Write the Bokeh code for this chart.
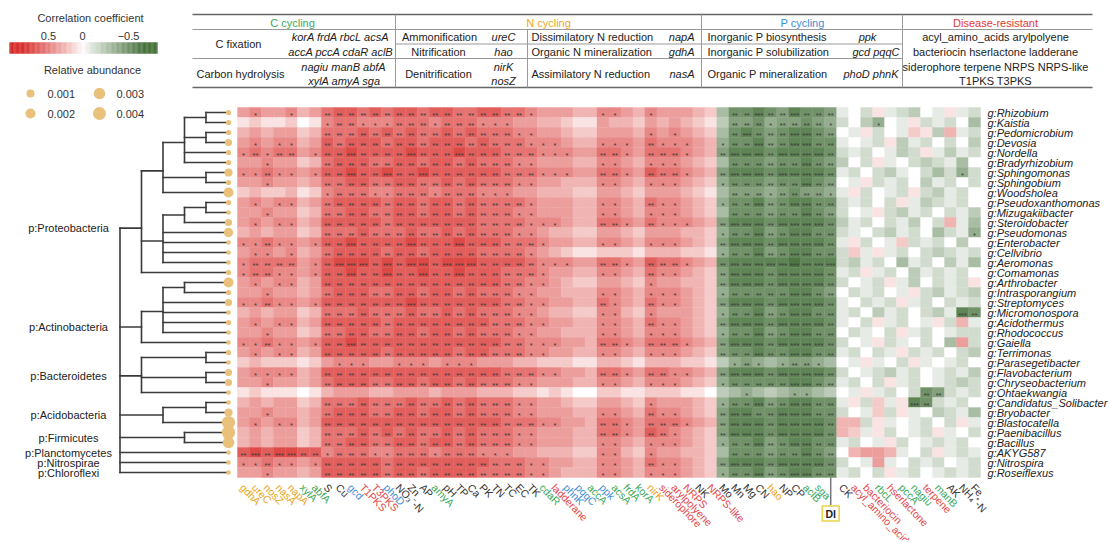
import math
from bokeh.plotting import figure
from bokeh.models import Range1d, ColumnDataSource
from bokeh.embed import file_html
from bokeh.resources import INLINE
from bokeh.core.properties import value

FONT = "Liberation Sans"

# ---------------- data ----------------
genera = ["Rhizobium", "Kaistia", "Pedomicrobium", "Devosia", "Nordella", "Bradyrhizobium",
          "Sphingomonas", "Sphingobium", "Woodsholea", "Pseudoxanthomonas", "Mizugakiibacter",
          "Steroidobacter", "Pseudomonas", "Enterobacter", "Cellvibrio", "Aeromonas", "Comamonas",
          "Arthrobacter", "Intrasporangium", "Streptomyces", "Micromonospora", "Acidothermus",
          "Rhodococcus", "Gaiella", "Terrimonas", "Parasegetibacter", "Flavobacterium",
          "Chryseobacterium", "Ohtaekwangia", "Candidatus_Solibacter", "Bryobacter", "Blastocatella",
          "Paenibacillus", "Bacillus", "AKYG587", "Nitrospira", "Roseiflexus"]

phyla = ["p:Proteobacteria", "p:Actinobacteria", "p:Bacteroidetes", "p:Acidobacteria",
         "p:Firmicutes", "p:Planctomycetes", "p:Nitrospirae", "p:Chloroflexi"]

abundance = [0.0002, 0.0002, 0.0002, 0.0007, 0.0002, 0.0002, 0.0011, 0.0002, 0.002, 0.0002,
             0.0001, 0.0007, 0.0016, 0.0001, 0.0001, 0.0001, 0.0002, 0.002, 0.0002, 0.0007,
             0.0001, 0.0002, 0.0001, 0.0001, 0.0002, 0.0001, 0.0007, 0.0007, 0.0001, 0.0001,
             0.0011, 0.0042, 0.0042, 0.003, 0.0001, 0.0001, 0.0001]

# taxonomy tree: (height, children); integers are row indices of genera
TREE = (5, [
    (4, [(3, [(2, [(1, [0, 1]), (1, [2, 3]), 4, 5]), (1, [6, 7]), 8]),
         (3, [(2, [(1, [9, 10]), 11]), 12, 13, 14, 15]),
         16]),
    (4, [(3, [(2, [17, 18]), 19, 20, 21, 22]), 23]),
    (4, [(1, [24, 25]), (1, [26, 27]), 28]),
    (3, [(1, [29, 30]), 31]),
    (2, [32, 33]),
    34, 35, 36])

factors = ["gdhA", "ureC", "nosZ", "nasA", "napA", "xylA", "abfA", "S", "Cu", "gcd", "T1PKS",
           "T3PKS", "phoD", "NO\u2083\u207b-N", "Zn", "AP", "amyA", "pH", "TP", "Ca", "PK", "TN",
           "TC", "EC", "TK", "cdaR", "ladderane", "phnK", "pqqC", "accA", "ppk", "acsA", "frdA",
           "korA", "nirK", "siderophore", "arylpolyene", "NRPS", "NK", "NRPS-like", "Mo", "Mn",
           "Mg", "CN", "hao", "NP", "CP", "aclB", "sga", "DI", "CK", "acyl_amino_acids",
           "bacteriocin", "rbcL", "hserlactone", "pccA", "nagiu", "terpene", "manB", "AK",
           "NH\u2084\u207a-N", "Fe"]
factor_group = ["N", "N", "N", "N", "N", "C", "C", "E", "E", "P", "D", "D", "P", "E", "E", "E",
                "C", "E", "E", "E", "E", "E", "E", "E", "E", "C", "D", "P", "P", "C", "P", "C",
                "C", "C", "N", "D", "D", "D", "E", "D", "E", "E", "E", "E", "N", "E", "E", "C",
                "C", "DI", "E", "D", "D", "C", "D", "C", "C", "D", "C", "E", "E", "E"]

# correlation level codes: digit k = +0.07*k, letter a..i = -0.07*(1..9)
corr_codes = [
    "4544534 67767 67767 76677 6654 44335 54354 4432 dgghg fhggf a0b1ab c0a1ab",
    "1211201 56655 56665 66655 5443 32114 33243 4321 cffge ffgfe b0ce0a 1bab0d",
    "3434423 66676 76766 76766 6554 43224 44354 5432 dghgf ghhgf 0a1b0a 21c3ab",
    "4545534 76777 67767 77676 6655 54335 55465 5543 egghf ghhgg a0ab1c ab0b0c",
    "5656645 77877 77877 78777 6665 55446 65466 6543 fhhhg hhhhg bab0ac b1acab",
    "4454423 67776 67767 76766 6554 44335 54355 5432 dgggf gghgf c0b1a0 bcbad0",
    "5565545 77877 87787 77777 6665 55446 65476 6543 fhhhg hhhhg ab0bca 0bdbeb",
    "4454434 66776 67766 76766 6554 43335 54355 5432 egggf gghgf 0a1bab 0cab0b",
    "2322312 56665 56665 66655 5443 33224 43244 4321 dfffe fgffe a1b0ab 1bcab0",
    "4545534 67777 67767 76766 6654 44335 54365 5432 egghf ghhgg bab0b1 acbab0",
    "4454423 66776 67767 76766 6554 44335 54355 5432 dgggf gghgf b0a1bc ab0bac",
    "4545534 77777 67777 77766 6655 54336 65465 5543 fhhhg hhhhg cab0ba c0b3ad",
    "3434423 66676 66766 76766 6554 33224 43244 4332 egghf ghhgg ba0bca b0dbae",
    "5565545 77877 77877 78777 6665 44335 54355 5432 fhhhg hhhhg a1b0a2 bab0c0",
    "4554534 67777 67767 77766 6654 32112 22133 3221 egghf ghhgg b2a1ab 0bcbab",
    "5666645 78887 87887 88877 7765 55446 65476 6543 ghhhh hihhh bcab0d ab0cad",
    "5665545 77877 87787 78777 6665 44335 54365 5432 fhhhg hhhhg ab1ab0 cabab0",
    "4545534 77777 77777 77777 6655 43224 43254 4332 fhhhg hhhhg b0ab1a c0bab1",
    "4454434 67776 67767 76766 6554 43335 54355 5432 egggg ghhgf 0bab0a 1bcabc",
    "5565545 77777 77877 77777 6655 44336 54365 5432 fhhhg hhhhg a0bab1 ab0bab",
    "3434423 66676 66766 76766 6554 33225 53254 4432 egghf ghhgg ab0cab 0bcahg",
    "4545534 77777 67777 77776 6655 44335 54365 5432 fhhhg hhhhg a0b1ab 0a1b3a",
    "4454423 66776 67767 76766 6554 43335 54355 5432 egghf ghhgg 0ba0b1 ab0abb",
    "5565545 77877 77777 77777 6655 54436 65466 6543 fhhhg hhhhg b0a1ba 0b0d4b",
    "4545534 77777 67777 76776 6655 44335 54355 5432 fgghg ghhgg ab0ba1 bab0bc",
    "2322212 45554 45554 55544 4332 22113 32133 3221 cefed effed 0a1a0b 1a0ab0",
    "4555534 77777 77777 77777 6665 54436 65466 5543 fhhhg hhhhg b0abca b0abac",
    "4454434 67776 67767 76766 6554 44335 54355 5432 egggg ghhgf ab0b1a b0abcb",
    "1211101 34443 34443 44433 3221 21002 21122 2110 cdedc deedc 0a1ab0 bgfbab",
    "3434423 66676 66766 76766 6554 43224 43254 4432 egghf ghhgg a1b2a1 hgbab0",
    "4454434 67776 67767 76766 6554 44335 54365 5432 fhhgg hhhgg b0a2b1 a0cbad",
    "4545534 77777 77777 77777 6665 54436 65466 6543 fhhhg hhhhg 33b1a0 ab0b1a",
    "3434423 66676 76766 76766 6554 44336 65476 5432 fhhhg hhhhg 32a1b0 ab1a0b",
    "3434423 66776 67767 76766 6554 44335 54355 5432 egghf ghhgg ab0a1b 0abab0",
    "7878877 56665 56665 66655 5443 33225 53254 4332 dgggf gghgf 03443a 0b1aba",
    "5565545 77777 67777 77776 6655 44335 54365 5432 fhhhg hhhhg b0a4a0 bab0ab",
    "4454434 77777 67767 77766 6655 43335 54355 5432 egghf ghhgg ab0b1a b0abab",
]

legend_ticks = ["0.5", "0", "\u22120.5"]
legend_sizes = [0.001, 0.002, 0.003, 0.004]

table_headers = ["C cycling", "N cycling", "P cycling", "Disease-resistant"]

# ---------------- helpers ----------------
GROUP_COLOR = {"N": "#EDA31E", "C": "#39A85A", "P": "#3A8ED6", "D": "#E4474A", "E": "#333333", "DI": "#222222"}
DOT_COLOR = "#E9C17A"


def level(ch):
    if ch.isdigit():
        return int(ch)
    return -(ord(ch) - 96)


def corr_color(r):
    end = (214, 45, 42) if r >= 0 else (70, 112, 58)
    t = min(abs(r) / 0.66, 1.0) ** 0.9
    return "#%02x%02x%02x" % tuple(int(round(255 + (e - 255) * t)) for e in end)


def dot_size(a):
    return 3 + 10 * math.sqrt(a / 0.004)


# ---------------- layout ----------------
W, H = 1110, 540
ncol, nrow = len(factors), len(genera)
HM_L, HM_R, HM_T, RH = 237.0, 980.0, 107.0, 10.0
CW = (HM_R - HM_L) / ncol
TIP_X, STEP = 227.0, 21.5

p = figure(width=W, height=H, x_range=Range1d(0, W), y_range=Range1d(H, 0),
           x_axis_type=None, y_axis_type=None, output_backend="svg", toolbar_location=None,
           min_border=0, outline_line_color=None, background_fill_color="white",
           border_fill_color="white")
p.grid.visible = False


def col_x(j):
    return HM_L + (j + 0.5) * CW


def row_y(i):
    return HM_T + (i + 0.5) * RH


# ---------------- heatmap ----------------
hx, hy, hc, sx, sy, st = [], [], [], [], [], []
for i, code in enumerate(corr_codes):
    code = code.replace(" ", "")
    if len(code) != ncol:
        raise ValueError("row %d has %d codes" % (i, len(code)))
    for j, ch in enumerate(code):
        lv = level(ch)
        r = lv * 0.07
        hx.append(col_x(j)); hy.append(row_y(i)); hc.append(corr_color(r))
        a = abs(lv)
        s = "***" if a >= 8 else ("**" if a >= 6 else ("*" if a >= 5 else ""))
        if s:
            sx.append(col_x(j)); sy.append(row_y(i) + 2.6); st.append(s)

p.rect(x="x", y="y", width=CW, height=RH, fill_color="c", line_color="c", line_width=0.4,
       source=ColumnDataSource(dict(x=hx, y=hy, c=hc)))
p.text(x="x", y="y", text="t", source=ColumnDataSource(dict(x=sx, y=sy, t=st)),
       text_font=value(FONT), text_font_size=value("7.5px"), text_color="#3a3a3a",
       text_align="center", text_baseline="middle")

# row labels (genera)
p.text(x=[HM_R + 7] * nrow, y=[row_y(i) + 0.5 for i in range(nrow)],
       text=["g:" + g for g in genera], text_font=value(FONT), text_font_size=value("11px"),
       text_font_style="italic", text_color="#222222", text_align="left", text_baseline="middle")

# column labels
lx, ly, lt, lc = [], [], [], []
for j, (f, g) in enumerate(zip(factors, factor_group)):
    if g == "DI":
        continue
    lx.append(col_x(j) - 1.5); ly.append(HM_T + nrow * RH + 8); lt.append(f); lc.append(GROUP_COLOR[g])
p.text(x="x", y="y", text="t", text_color="c", source=ColumnDataSource(dict(x=lx, y=ly, t=lt, c=lc)),
       angle=-46, angle_units="deg", text_font=value(FONT), text_font_size=value("10.5px"),
       text_align="left", text_baseline="middle")

# DI marker
dj = factor_group.index("DI")
dx = col_x(dj)
bottom = HM_T + nrow * RH
p.segment(x0=[dx], y0=[bottom], x1=[dx], y1=[bottom + 28], line_color="#777777", line_width=1.5)
p.rect(x=[dx], y=[bottom + 36], width=17, height=15, fill_color="white", line_color="#EBD54A", line_width=1.6)
p.text(x=[dx], y=[bottom + 36.5], text=["DI"], text_font=value(FONT), text_font_size=value("10.5px"),
       text_font_style="bold", text_color="#222222", text_align="center", text_baseline="middle")

# ---------------- tree ----------------
seg = dict(x0=[], y0=[], x1=[], y1=[])


def add(x0, y0, x1, y1):
    seg["x0"].append(x0); seg["y0"].append(y0); seg["x1"].append(x1); seg["y1"].append(y1)


def place(node, parent_x):
    if isinstance(node, int):
        y = row_y(node)
        add(parent_x, y, TIP_X, y)
        return y
    h, kids = node
    x = TIP_X - h * STEP
    ys = [place(k, x) for k in kids]
    add(x, min(ys), x, max(ys))
    y = sum(ys) / len(ys)
    if parent_x is not None:
        add(parent_x, y, x, y)
    return y


root_h, root_kids = TREE
root_x = TIP_X - root_h * STEP
phylum_y = [place(k, root_x) for k in root_kids]
add(root_x, min(phylum_y), root_x, max(phylum_y))
p.segment(x0="x0", y0="y0", x1="x1", y1="y1", source=ColumnDataSource(seg),
          line_color="#3a3a3a", line_width=1.6, line_cap="square")

p.text(x=[68] * len(phyla), y=phylum_y, text=phyla, text_font=value(FONT),
       text_font_size=value("11px"), text_color="#222222", text_align="center", text_baseline="middle")

p.scatter(x=[TIP_X + 1] * nrow, y=[row_y(i) for i in range(nrow)],
          size=[dot_size(a) for a in abundance], fill_color=DOT_COLOR, line_color=None)

# ---------------- legends ----------------
p.text(x=[90], y=[17], text=["Correlation coefficient"], text_font=value(FONT),
       text_font_size=value("11px"), text_color="#333333", text_align="center", text_baseline="middle")
p.text(x=[48, 82, 128], y=[35, 35, 35], text=legend_ticks, text_font=value(FONT),
       text_font_size=value("11px"), text_color="#333333", text_align="center", text_baseline="middle")
nb = 120
cb_l, cb_r = 9.0, 157.0
bw = (cb_r - cb_l) / nb
cbx = [cb_l + (k + 0.5) * bw for k in range(nb)]
cbc = [corr_color(0.8 - 1.6 * (k + 0.5) / nb) for k in range(nb)]
p.rect(x=cbx, y=[47.5] * nb, width=bw, height=11, fill_color=cbc, line_color=cbc, line_width=0.3)

p.text(x=[92], y=[69], text=["Relative abundance"], text_font=value(FONT),
       text_font_size=value("11px"), text_color="#333333", text_align="center", text_baseline="middle")
leg_dx = [30, 30, 99, 99]
leg_dy = [93, 113, 93, 113]
p.scatter(x=leg_dx, y=leg_dy, size=[dot_size(a) for a in legend_sizes], fill_color=DOT_COLOR, line_color=None)
p.text(x=[d + 17 for d in leg_dx], y=leg_dy, text=["%.3f" % a for a in legend_sizes], text_font=value(FONT),
       text_font_size=value("11px"), text_color="#333333", text_align="left", text_baseline="middle")

# ---------------- table ----------------
T_L, T_R = 192, 1092
Y0, Y1, Y2, Y3, Y4 = 14, 29, 43.5, 58, 87
VC, VN, VP, VD = 395, 527, 701, 902
p.segment(x0=[T_L, T_L], y0=[Y0, Y4], x1=[T_R, T_R], y1=[Y0, Y4], line_color="#666666", line_width=1.3)
p.segment(x0=[T_L, VC, T_L, VC, VN, VP, VD],
          y0=[Y1, Y2, Y3, Y0, Y1, Y0, Y0],
          x1=[T_R, VD, VD, VC, VN, VP, VD],
          y1=[Y1, Y2, Y3, Y4, Y4, Y4, Y4],
          line_color="#999999", line_width=1)

head_colors = [GROUP_COLOR["C"], "#F0A81E", GROUP_COLOR["P"], "#E4382F"]
p.text(x=[292, 548, 802, 995], y=[22] * 4, text=table_headers, text_color=head_colors,
       text_font=value(FONT), text_font_size=value("11px"), text_align="center", text_baseline="middle")

processes = ["C fixation", "Carbon hydrolysis", "Ammonification", "Nitrification", "Denitrification",
             "Dissimilatory N reduction", "Organic N mineralization", "Assimilatory N reduction",
             "Inorganic P biosynthesis", "Inorganic P solubilization", "Organic P mineralization"]
proc_x = [238, 240, 439, 438, 438, 531, 531, 531, 707, 707, 707]
proc_y = [43.5, 73, 36, 51, 73, 36, 51, 73, 36, 51, 73]
proc_align = ["center"] * 5 + ["left"] * 6
p.text(x=proc_x, y=proc_y, text=processes, text_align=proc_align, text_font=value(FONT),
       text_font_size=value("11px"), text_color="#222222", text_baseline="middle")

gene_sets = ["korA frdA rbcL acsA", "accA pccA cdaR aclB", "nagiu manB abfA", "xylA amyA sga",
             "ureC", "hao", "nirK", "nosZ", "napA", "gdhA", "nasA", "ppk", "gcd pqqC", "phoD phnK"]
gene_x = [389, 393, 343, 344, 503, 503, 503, 503, 694, 694, 694, 867, 899, 898]
gene_y = [36, 51, 66, 80, 36, 51, 66, 80, 36, 51, 73, 36, 51, 73]
gene_align = ["right", "right", "center", "center", "center", "center", "center", "center",
              "right", "right", "right", "center", "right", "right"]
p.text(x=gene_x, y=gene_y, text=gene_sets, text_align=gene_align, text_font=value(FONT),
       text_font_size=value("11px"), text_font_style="italic", text_color="#222222", text_baseline="middle")

disease_lines = ["acyl_amino_acids arylpolyene", "bacteriocin hserlactone ladderane",
                 "siderophore terpene NRPS NRPS-like", "T1PKS T3PKS"]
p.text(x=[995] * 4, y=[36, 51, 66.5, 80], text=disease_lines, text_align="center", text_font=value(FONT),
       text_font_size=value("11px"), text_color="#222222", text_baseline="middle")

open("out.html", "w").write(file_html(p, INLINE))
